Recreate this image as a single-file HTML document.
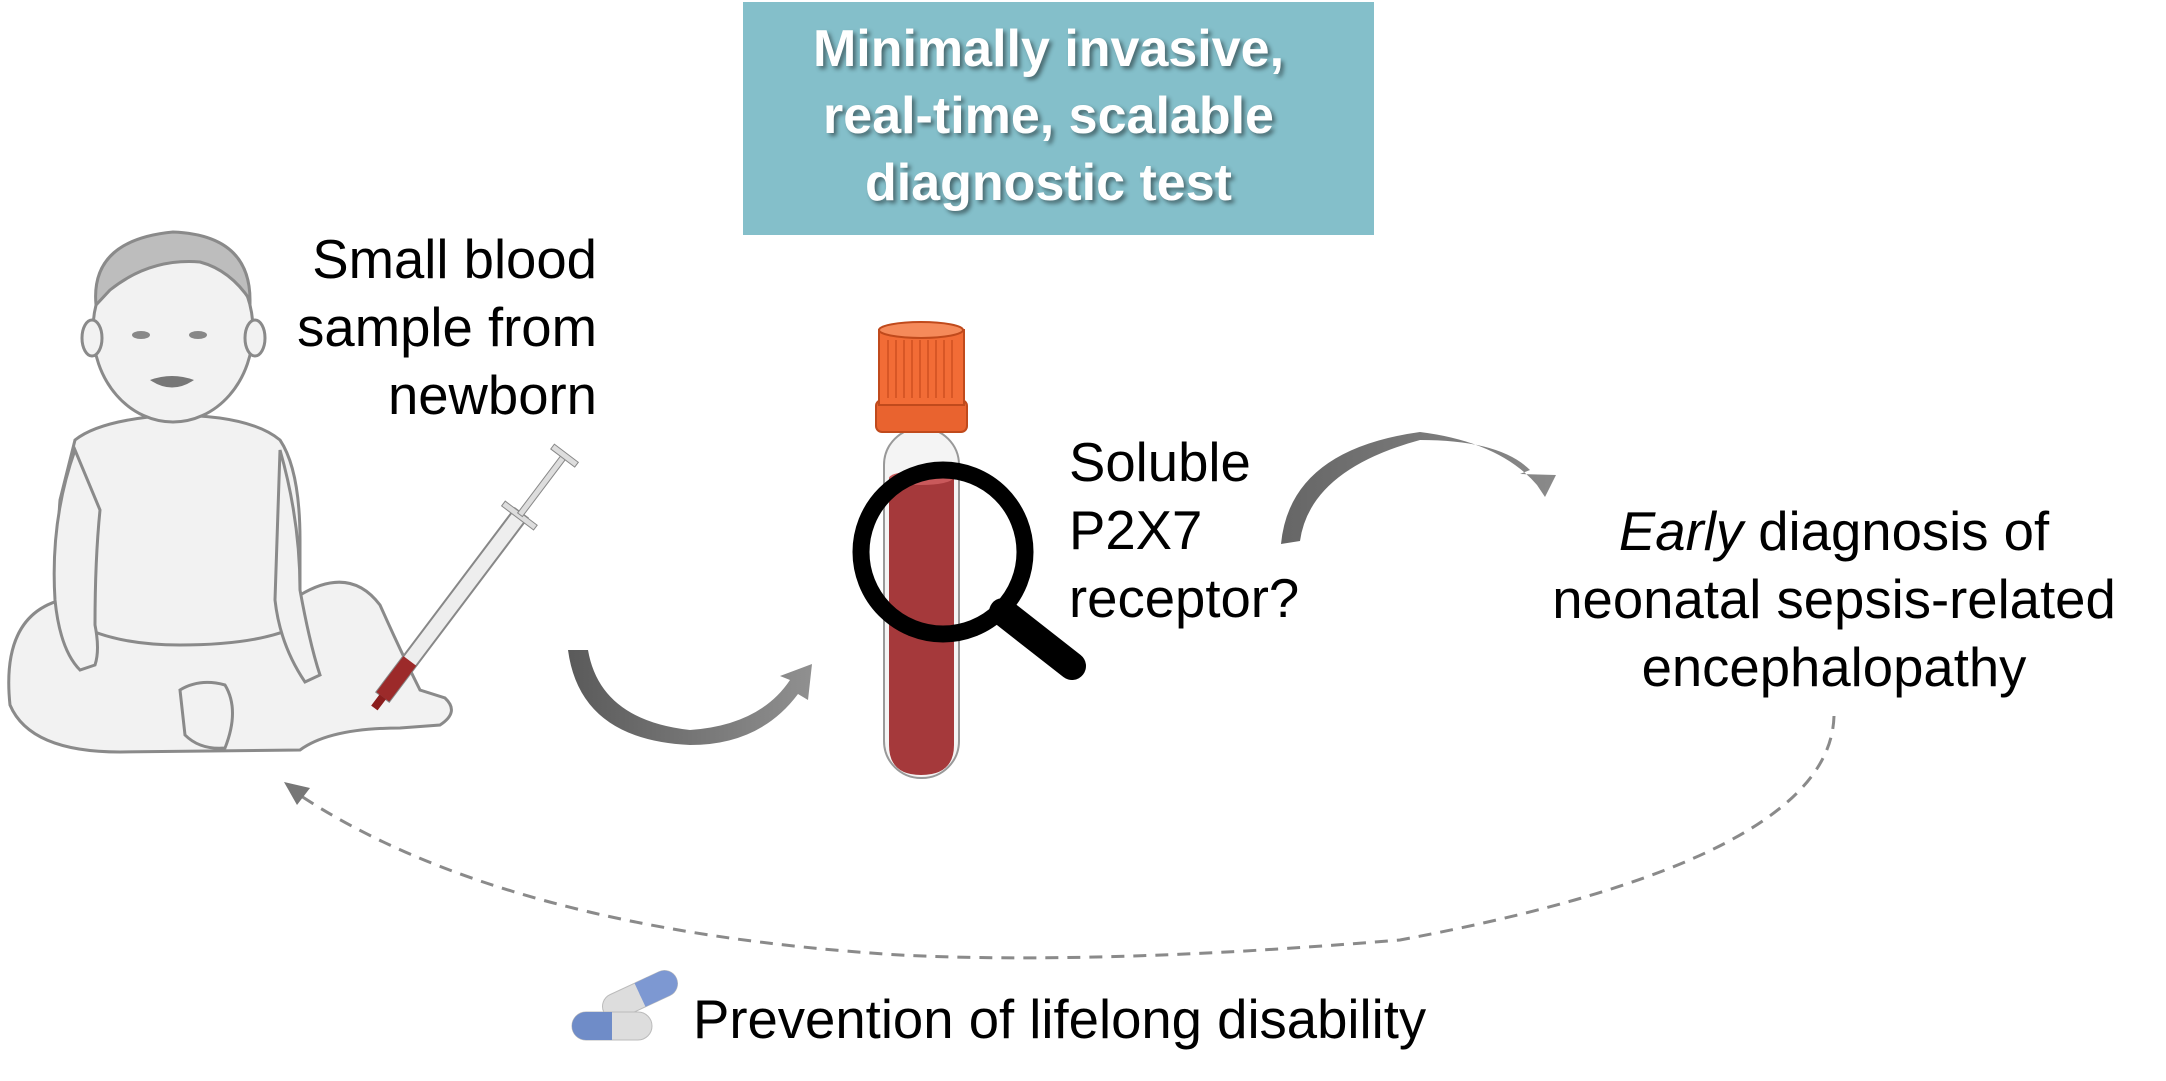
<!DOCTYPE html>
<html><head><meta charset="utf-8"><style>
html,body{margin:0;padding:0;background:#fff;}
body{width:2166px;height:1081px;position:relative;overflow:hidden;font-family:"Liberation Sans",Arial,sans-serif;}
.t{position:absolute;color:#000;font-size:54.5px;line-height:68px;white-space:nowrap;}
.box{position:absolute;left:743px;top:2px;width:631px;height:233px;background:#84bfca;}
.bt{position:absolute;left:733px;top:16px;width:631px;text-align:center;color:#fff;font-weight:bold;font-size:52px;line-height:67px;text-shadow:3px 3px 4px rgba(0,0,0,0.45);}
</style></head><body>
<svg width="2166" height="1081" style="position:absolute;left:0;top:0">
<defs>
<linearGradient id="ag" x1="0" x2="1"><stop offset="0" stop-color="#5a5a5a"/><stop offset="1" stop-color="#909090"/></linearGradient>
<linearGradient id="ag2" x1="0" x2="1"><stop offset="0" stop-color="#666"/><stop offset="1" stop-color="#8a8a8a"/></linearGradient>
</defs>
<g stroke="#8a8a8a" stroke-width="3" fill="#f2f2f2">
<path d="M10 705 Q0 610 70 598 L150 590 L300 595 Q350 565 380 605 Q400 650 420 690 L445 698 Q460 712 440 725 L400 728 Q330 728 300 750 L120 752 Q30 752 10 705Z"/>
<path d="M75 440 Q100 420 170 415 Q250 415 280 440 Q300 470 300 540 L300 625 Q260 645 180 645 Q110 645 70 620 Q55 560 60 500 Z"/>
<path d="M75 450 Q50 520 55 600 Q60 650 80 670 L95 665 Q100 650 95 625 Q95 560 100 510 Z"/>
<path d="M280 450 Q300 520 300 590 Q310 645 320 675 L305 682 Q280 645 275 600 Z"/>
<path d="M180 690 Q200 678 225 685 Q240 710 225 748 Q200 750 185 735 Z"/>
<ellipse cx="173" cy="330" rx="80" ry="92"/>
<path d="M96 305 Q90 240 173 232 Q250 235 250 300 Q230 270 200 262 Q150 258 110 290 Z" fill="#bdbdbd"/>
<ellipse cx="92" cy="338" rx="10" ry="18"/><ellipse cx="255" cy="338" rx="10" ry="18"/>
</g>
<g fill="#888"><ellipse cx="141" cy="335" rx="9" ry="4"/><ellipse cx="198" cy="335" rx="9" ry="4"/></g>
<path d="M150 380 Q172 395 194 380 Q172 372 150 380Z" fill="#777"/>
<g transform="translate(-8 20) rotate(37 460 585)">
<rect x="452" y="470" width="16" height="230" fill="#eee" stroke="#888" stroke-width="2"/>
<rect x="452" y="655" width="16" height="45" fill="#9c2a2a"/>
<rect x="440" y="470" width="40" height="6" fill="#ddd" stroke="#888"/>
<rect x="457" y="400" width="6" height="72" fill="#ddd" stroke="#888"/>
<rect x="445" y="395" width="30" height="6" fill="#ddd" stroke="#888"/>
<rect x="456" y="700" width="8" height="14" fill="#8b1d1d"/>
</g>
<path d="M568 650 L588 650 Q600 720 690 730 Q760 725 790 680 L780 676 L812 664 L808 700 L798 694 Q760 745 690 745 Q580 740 568 650Z" fill="url(#ag)"/>
<path d="M1281 544 L1300 541 Q1310 470 1420 440 Q1500 440 1530 470 L1520 474 L1556 475 L1545 497 L1537 485 Q1500 442 1420 432 Q1290 450 1281 544Z" fill="url(#ag2)"/>
<path d="M1834 716 Q1830 860 1400 940 Q1100 965 900 955 Q500 930 295 792" fill="none" stroke="#8a8a8a" stroke-width="3" stroke-dasharray="13 9"/>
<path d="M284 782 L310 788 L297 805 Z" fill="#777"/>
<rect x="884" y="428" width="75" height="350" rx="37" fill="#f4f4f4" stroke="#999" stroke-width="2"/>
<path d="M889 478 L954 478 L954 745 Q954 775 921 775 Q889 775 889 745Z" fill="#a5393b"/>
<ellipse cx="921" cy="478" rx="32" ry="7" fill="#c9595b"/>
<rect x="876" y="400" width="91" height="32" rx="6" fill="#e9632f" stroke="#c04a1c" stroke-width="2"/>
<rect x="879" y="330" width="85" height="75" fill="#f26c36" stroke="#c04a1c" stroke-width="2"/>
<ellipse cx="921" cy="330" rx="42" ry="8" fill="#f58a5a" stroke="#c04a1c" stroke-width="2"/>
<g stroke="#d05020" stroke-width="1.5">
<line x1="888" y1="340" x2="888" y2="398"/><line x1="896" y1="340" x2="896" y2="398"/><line x1="904" y1="340" x2="904" y2="398"/><line x1="912" y1="340" x2="912" y2="398"/><line x1="920" y1="340" x2="920" y2="398"/><line x1="928" y1="340" x2="928" y2="398"/><line x1="936" y1="340" x2="936" y2="398"/><line x1="944" y1="340" x2="944" y2="398"/><line x1="952" y1="340" x2="952" y2="398"/></g>
<circle cx="943" cy="552" r="82" fill="none" stroke="#000" stroke-width="17"/>
<line x1="1003" y1="612" x2="1072" y2="666" stroke="#000" stroke-width="28" stroke-linecap="round"/>
<g transform="rotate(-25 640 995)"><rect x="600" y="982" width="80" height="26" rx="13" fill="#ddd" stroke="#bbb"/><rect x="640" y="982" width="40" height="26" rx="13" fill="#7d98d2"/><rect x="640" y="982" width="14" height="26" fill="#7d98d2"/></g>
<rect x="572" y="1012" width="80" height="28" rx="14" fill="#ddd" stroke="#bbb"/>
<rect x="572" y="1012" width="40" height="28" rx="14" fill="#6f8cc8"/><rect x="598" y="1012" width="14" height="28" fill="#6f8cc8"/>
</svg>
<div class="box"></div>
<div class="bt">Minimally invasive,<br>real-time, scalable<br>diagnostic test</div>
<div class="t" style="right:1569px;top:226px;text-align:right;">Small blood<br>sample from<br>newborn</div>
<div class="t" style="left:1069px;top:429px;">Soluble<br>P2X7<br>receptor?</div>
<div class="t" style="left:1484px;top:498px;width:700px;text-align:center;"><i>Early</i> diagnosis of<br>neonatal sepsis-related<br>encephalopathy</div>
<div class="t" style="left:693px;top:986px;">Prevention of lifelong disability</div>
</body></html>
